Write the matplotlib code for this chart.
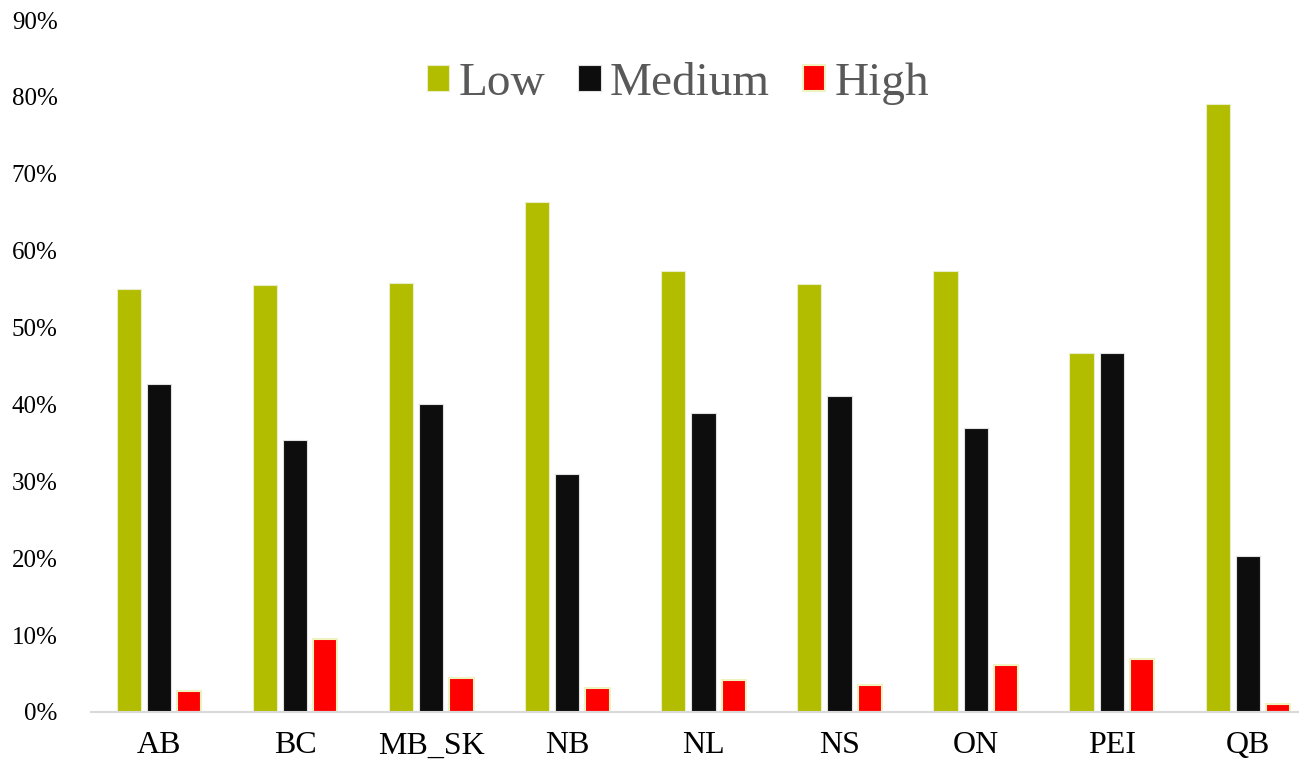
import numpy as np
import matplotlib.pyplot as plt
from matplotlib.ticker import FuncFormatter

# Kategoriler ve seriler
provinces = ['AB', 'BC', 'MB_SK', 'NB', 'NL', 'NS', 'ON', 'PEI', 'QB']
low = [0.550, 0.555, 0.558, 0.663, 0.573, 0.557, 0.573, 0.467, 0.791]
medium = [0.427, 0.354, 0.401, 0.309, 0.389, 0.411, 0.369, 0.467, 0.203]
high = [0.027, 0.095, 0.044, 0.031, 0.042, 0.035, 0.061, 0.069, 0.010]

serif = ['Liberation Serif', 'DejaVu Serif']

fig = plt.figure(figsize=(12.99, 7.67), dpi=100)
ax = fig.add_axes([91 / 1299, 1 - 712 / 767, (1299 - 91) / 1299, (712 - 20) / 767])

x = np.arange(len(provinces))
w = 0.178
step = 0.222
ax.bar(x - step, low, w, color='#b3bd00', edgecolor='#e8efc8', linewidth=0.8, label='Low')
ax.bar(x, medium, w, color='#0d0d0d', edgecolor='#e0e0e0', linewidth=0.8, label='Medium')
ax.bar(x + step, high, w, color='#ff0000', edgecolor='#eef3c0', linewidth=1.5, label='High')

ax.set_ylim(0, 0.9)
ax.set_xlim(-0.5, -0.5 + (1299 - 91) / 136.1)
ax.set_yticks(np.arange(0, 0.91, 0.1))
ax.yaxis.set_major_formatter(FuncFormatter(lambda v, p: f'{v * 100:.0f}%'))
ax.set_xticks(x)
ax.set_xticklabels(provinces)

for s in ['top', 'right', 'left']:
    ax.spines[s].set_visible(False)
ax.spines['bottom'].set_color('#d9d9d9')
ax.spines['bottom'].set_linewidth(1.5)
ax.tick_params(axis='both', length=0)
ax.tick_params(axis='y', pad=24)
ax.tick_params(axis='x', pad=14)

for lab in ax.get_yticklabels():
    lab.set_family(serif)
    lab.set_fontsize(18)
    lab.set_color('#000000')
for lab in ax.get_xticklabels():
    lab.set_family(serif)
    lab.set_fontsize(23)
    lab.set_color('#000000')

leg = ax.legend(loc='center', bbox_to_anchor=(0.486, 0.908), ncol=3, frameon=False,
                prop={'family': serif, 'size': 34}, handlelength=0.47, handleheight=0.47,
                handletextpad=0.2, columnspacing=0.7)
for t in leg.get_texts():
    t.set_color('#595959')

plt.savefig('out.png', dpi=100)
